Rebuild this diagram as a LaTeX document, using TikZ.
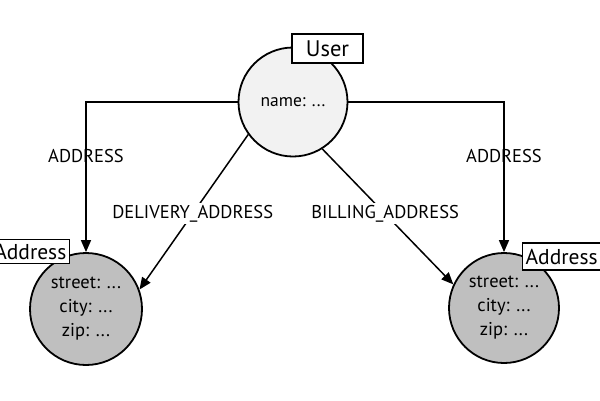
\documentclass[tikz,border=0pt]{standalone}
\usepackage{fontspec}
\setmainfont{PT Sans}
\usetikzlibrary{positioning,calc,arrows.meta}

\begin{document}
\begin{tikzpicture}[x=1pt,y=-1pt,
		entity/.style={circle, draw, line width=1.8pt, inner sep=0pt, align=center, font=\fontsize{18.5}{24}\selectfont},
		tag/.style={draw, fill=white, line width=1.3pt, inner sep=3pt, font=\fontsize{21.5}{23}\selectfont},
		rel/.style={line width=1.5pt, -{Triangle[length=12pt,width=10pt]}},
		rellabel/.style={font=\fontsize{18.5}{20}\selectfont, inner sep=2pt}]
			\useasboundingbox (0,0) rectangle (600,400);
			\clip (0,0) rectangle (600,400);
			\node[entity, fill=black!5, minimum size=109pt, font=\fontsize{17.5}{20}\selectfont] (user) at (293,102) {name: ...};
			\node[entity, fill=black!25, minimum size=112pt] (addrL) at (86,309) {street: ...\\city: ...\\zip: ...};
			\node[entity, fill=black!25, minimum size=110pt] (addrR) at (504,308) {street: ...\\city: ...\\zip: ...};
			\node[tag, minimum width=71pt, minimum height=29pt, font=\fontsize{22.5}{24}\selectfont] (userTag) at (327.5,48.5) {User};
			\node[tag, minimum height=24pt, anchor=east] (addrLTag) at (70,251.5) {Address};
			\node[tag, minimum height=27pt, anchor=west] (addrRTag) at (522,256.5) {Address};
			\draw[rel] (user.west) -| (addrL.north) node[rellabel, pos=0.68] {ADDRESS};
			\draw[rel] (user.east) -| (addrR.north) node[rellabel, pos=0.68] {ADDRESS};
			\draw[rel] (user.216) -- (addrL.20) node[rellabel, fill=white, pos=0.51] {DELIVERY\_ADDRESS};
			\draw[rel] (user.302) -- (addrR.155) node[rellabel, fill=white, pos=0.48] {BILLING\_ADDRESS};
		\end{tikzpicture}
\end{document}
